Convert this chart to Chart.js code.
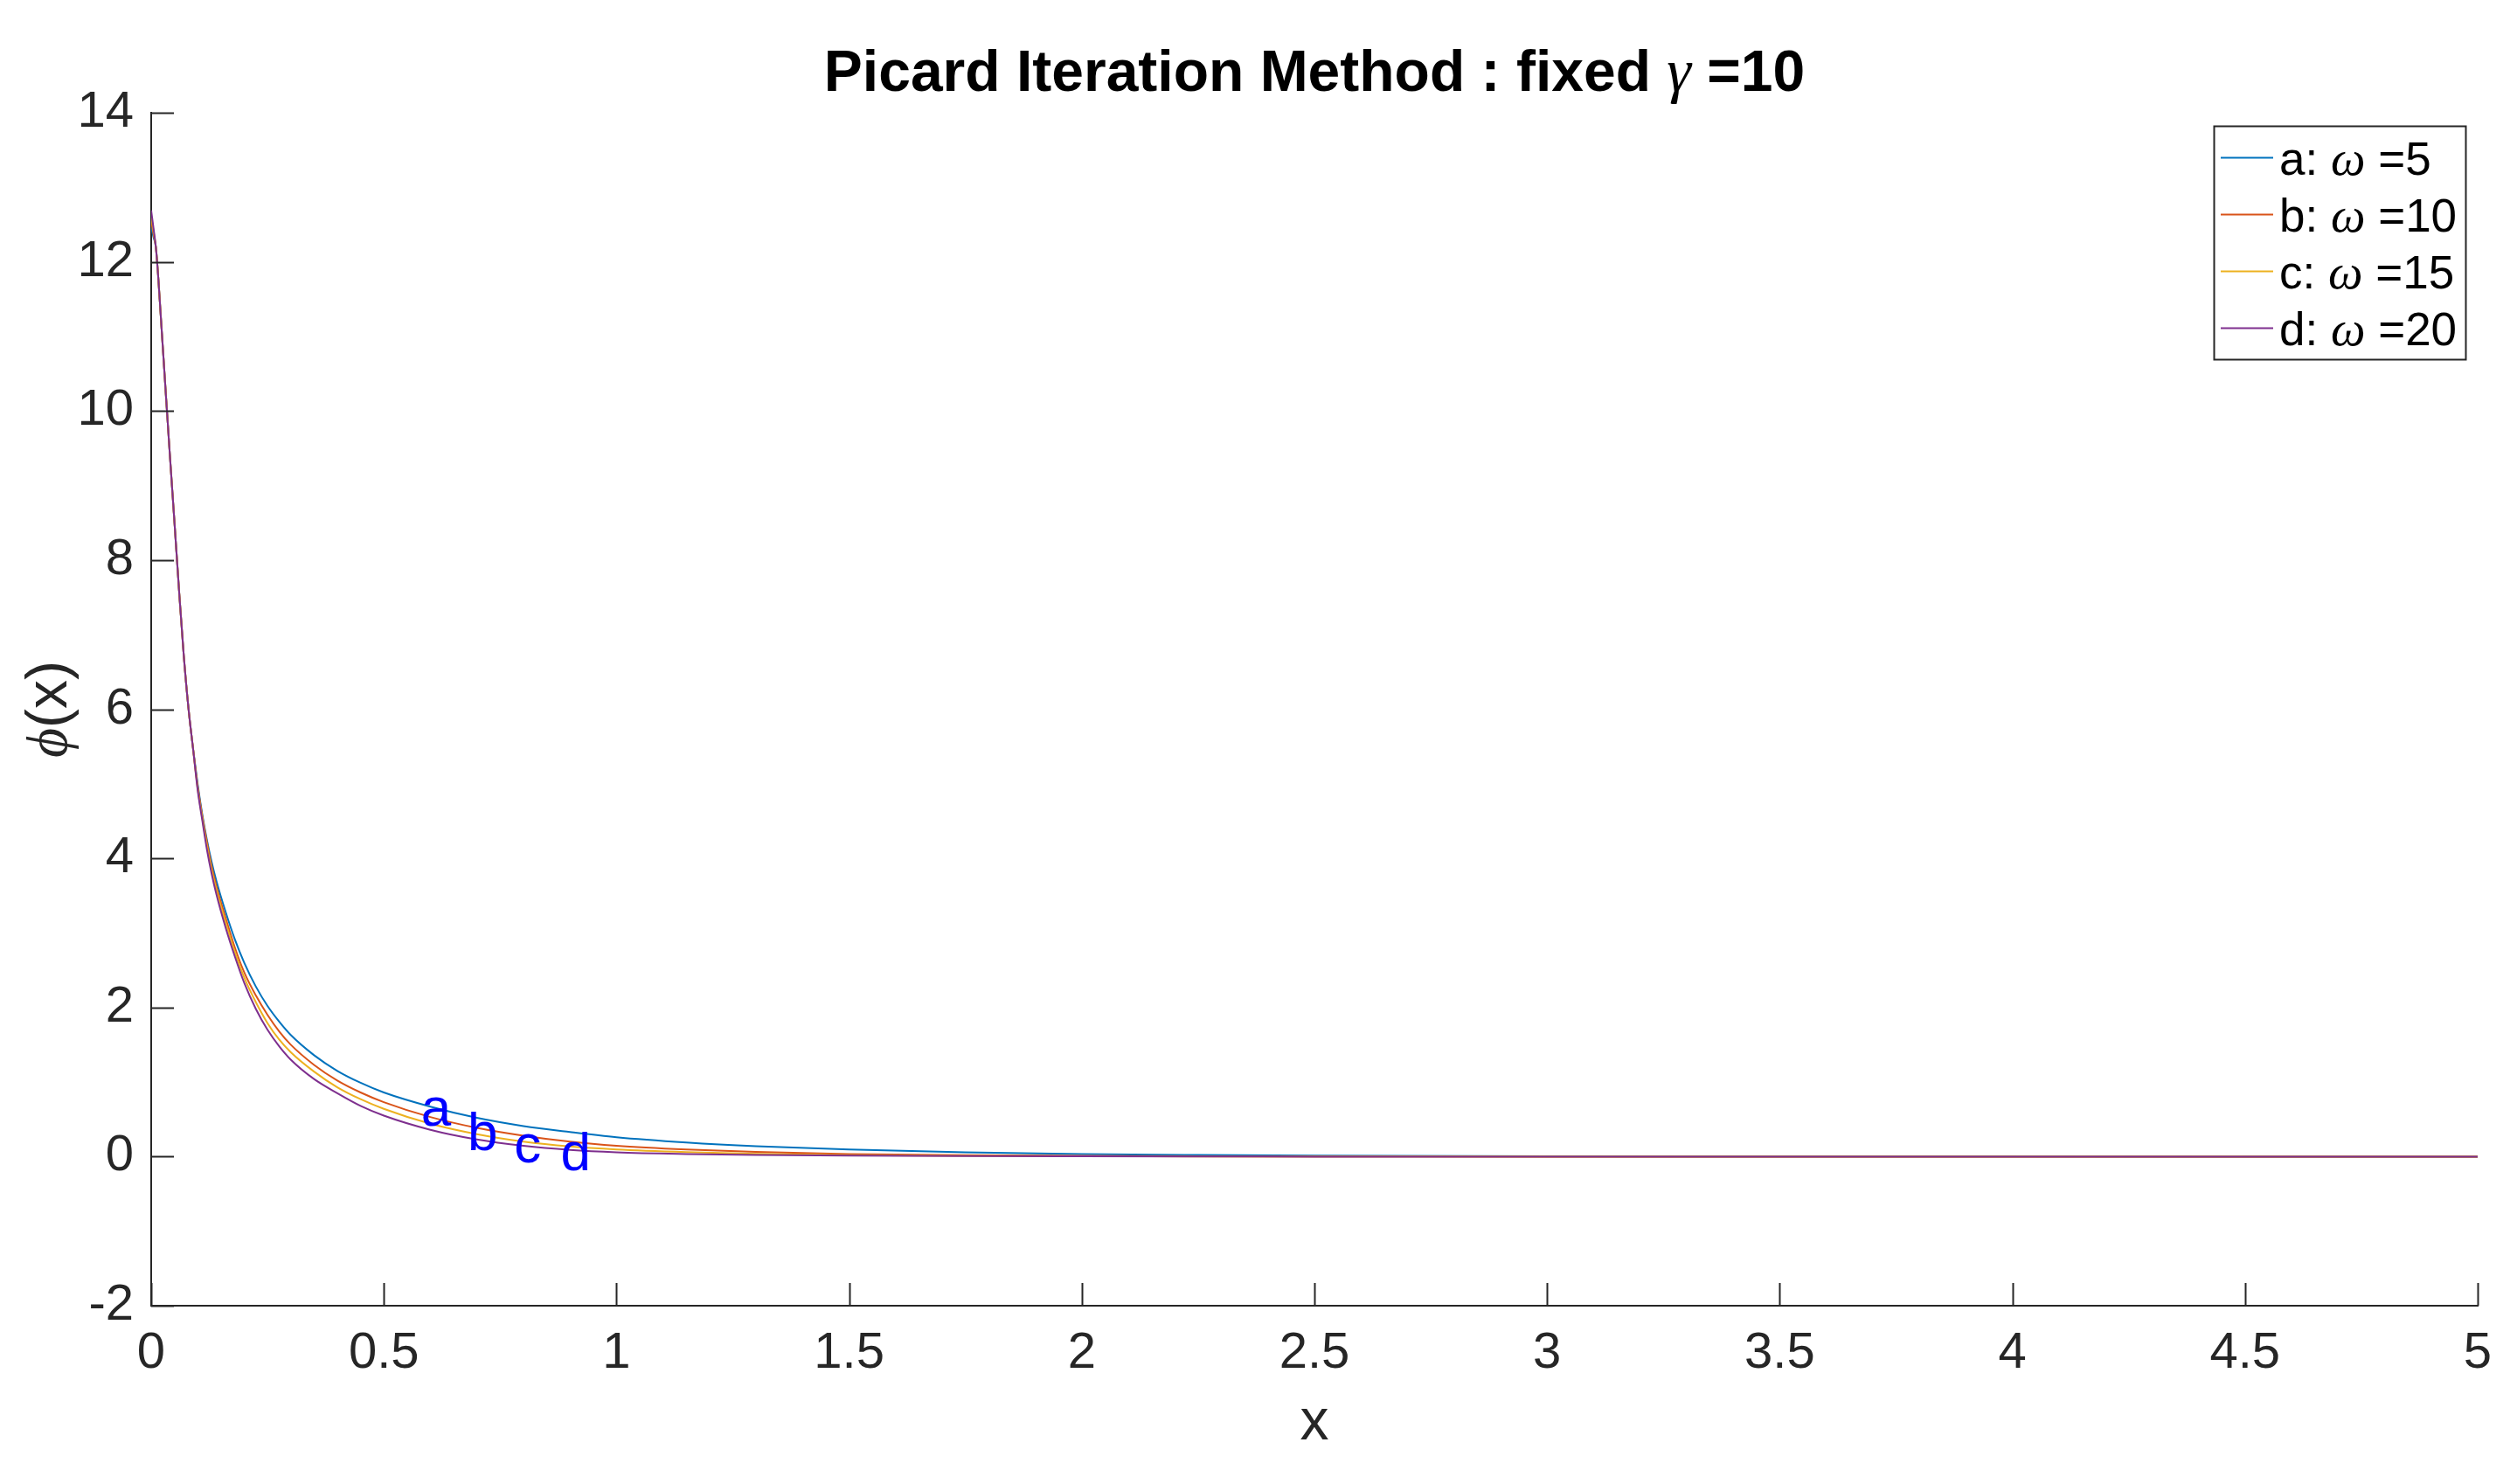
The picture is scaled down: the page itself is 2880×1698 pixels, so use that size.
<!DOCTYPE html>
<html>
<head>
<meta charset="utf-8">
<title>Picard Iteration Method</title>
<script src="https://cdn.jsdelivr.net/npm/chart.js@4.4.1/dist/chart.umd.min.js"></script>
<style>
    html, body { margin: 0; padding: 0; background: #fff; }
    canvas { display: block; }
</style>
</head>
<body>
<canvas id="picard-chart" width="2880" height="1698"></canvas>
<script>
// ===================================================================
// DATA
// ===================================================================
const xValues = [0, 0.005, 0.01, 0.015, 0.02, 0.03, 0.04, 0.05, 0.06, 0.07, 0.08, 0.09,
                 0.1, 0.11, 0.12, 0.13, 0.14, 0.16, 0.18, 0.2, 0.225, 0.25, 0.275, 0.3,
                 0.35, 0.4, 0.45, 0.5, 0.6, 0.7, 0.8, 0.9, 1.0, 1.15, 1.3, 1.5, 1.75,
                 2.0, 2.25, 2.5, 3.0, 3.5, 4.0, 4.5, 5.0];

const phiA = [12.47, 12.33, 12.2, 11.81, 11.33, 10.37, 9.42, 8.51, 7.58, 6.72, 6.02, 5.47,
              4.99, 4.58, 4.24, 3.95, 3.70, 3.28, 2.91, 2.60, 2.28, 2.02, 1.81, 1.63,
              1.36, 1.15, 0.99, 0.86, 0.67, 0.52, 0.41, 0.33, 0.26, 0.19, 0.14, 0.095, 0.058,
              0.035, 0.022, 0.013, 0.005, 0.002, 0.001, 0, 0];
const phiB = [12.55, 12.37, 12.2, 11.81, 11.33, 10.37, 9.42, 8.51, 7.58, 6.72, 6.02, 5.47,
              4.96, 4.56, 4.21, 3.89, 3.63, 3.20, 2.80, 2.47, 2.16, 1.90, 1.68, 1.50,
              1.23, 1.02, 0.86, 0.73, 0.53, 0.385, 0.28, 0.20, 0.145, 0.095, 0.062, 0.035, 0.018,
              0.009, 0.004, 0.002, 0, 0, 0, 0, 0];
const phiC = [12.61, 12.41, 12.2, 11.81, 11.33, 10.37, 9.42, 8.51, 7.58, 6.72, 6.02, 5.47,
              4.93, 4.53, 4.16, 3.84, 3.58, 3.14, 2.74, 2.40, 2.07, 1.79, 1.57, 1.40,
              1.14, 0.93, 0.77, 0.64, 0.44, 0.30, 0.20, 0.135, 0.095, 0.06, 0.038, 0.02, 0.01,
              0.005, 0.002, 0.001, 0, 0, 0, 0, 0];
const phiD = [12.69, 12.45, 12.2, 11.81, 11.33, 10.37, 9.42, 8.51, 7.58, 6.72, 6.02, 5.47,
              4.91, 4.50, 4.11, 3.79, 3.52, 3.07, 2.68, 2.33, 1.98, 1.70, 1.48, 1.30,
              1.04, 0.85, 0.68, 0.55, 0.36, 0.23, 0.145, 0.09, 0.058, 0.035, 0.022, 0.012, 0.006,
              0.003, 0.001, 0, 0, 0, 0, 0, 0];

const seriesKeys = ['a', 'b', 'c', 'd'];
const omegaValues = [5, 10, 15, 20];
const seriesColors = ['#0072BD', '#D95319', '#EDB120', '#7E2F8E'];

// curve labels placed inside the plot
const labelX = [0.58, 0.68, 0.78, 0.88];
const labelY = [0.62, 0.29, 0.12, 0.02];

const gammaValue = 10;

document.addEventListener('DOMContentLoaded', () => {
    const SANS = '"Liberation Sans", Arial, Helvetica, sans-serif';
    const SERIF = '"Liberation Serif", "DejaVu Serif", serif';
    const AXIS_COLOR = '#262626';
    const TICK_LEN = 26;

    // draws a row of text pieces with different fonts, starting at x
    function drawPieces(ctx, pieces, x, y) {
        pieces.forEach(p => {
            ctx.font = p.font;
            ctx.fillText(p.text, x, y);
            x += ctx.measureText(p.text).width;
        });
    }
    function piecesWidth(ctx, pieces) {
        return pieces.reduce((w, p) => { ctx.font = p.font; return w + ctx.measureText(p.text).width; }, 0);
    }

    // ===================================================================
    // PLUGIN: matlab-like decorations (title, inward ticks, legend, labels)
    // ===================================================================
    const matlabDecor = {
        id: 'matlabDecor',
        afterDatasetsDraw(chart) {
            const { ctx, chartArea, scales } = chart;
            const xs = scales.x, ys = scales.y;
            ctx.save();

            // inward ticks
            ctx.strokeStyle = AXIS_COLOR;
            ctx.lineWidth = 2;
            ctx.beginPath();
            xs.ticks.forEach(t => {
                const px = Math.round(xs.getPixelForValue(t.value)) + 0.5;
                ctx.moveTo(px, chartArea.bottom);
                ctx.lineTo(px, chartArea.bottom - TICK_LEN);
            });
            ys.ticks.forEach(t => {
                const py = Math.round(ys.getPixelForValue(t.value)) + 0.5;
                ctx.moveTo(chartArea.left, py);
                ctx.lineTo(chartArea.left + TICK_LEN, py);
            });
            ctx.stroke();

            // curve labels a..d
            ctx.fillStyle = '#0000FF';
            ctx.font = '62px ' + SANS;
            ctx.textAlign = 'left';
            ctx.textBaseline = 'middle';
            seriesKeys.forEach((k, i) => {
                ctx.fillText(k, xs.getPixelForValue(labelX[i]), ys.getPixelForValue(labelY[i]));
            });

            // title
            ctx.fillStyle = '#000';
            ctx.textBaseline = 'alphabetic';
            const titlePieces = [
                { text: 'Picard Iteration Method : fixed ', font: 'bold 66px ' + SANS },
                { text: 'γ', font: 'italic 70px ' + SERIF },
                { text: ' =' + gammaValue, font: 'bold 66px ' + SANS },
            ];
            const cx = (chartArea.left + chartArea.right) / 2;
            drawPieces(ctx, titlePieces, cx - piecesWidth(ctx, titlePieces) / 2, 104);

            // axis titles
            ctx.fillStyle = AXIS_COLOR;
            ctx.font = '66px ' + SANS;
            ctx.textAlign = 'center';
            ctx.fillText('x', cx, 1647);

            const yPieces = [
                { text: 'ϕ', font: 'italic 66px ' + SERIF },
                { text: '(x)', font: '66px ' + SANS },
            ];
            ctx.save();
            ctx.translate(76, (chartArea.top + chartArea.bottom) / 2);
            ctx.rotate(-Math.PI / 2);
            ctx.textAlign = 'left';
            drawPieces(ctx, yPieces, -piecesWidth(ctx, yPieces) / 2, 0);
            ctx.restore();

            // legend box
            const box = { left: 2533, top: 144, right: 2821, bottom: 411 };
            ctx.fillStyle = '#fff';
            ctx.fillRect(box.left, box.top, box.right - box.left, box.bottom - box.top);
            ctx.strokeStyle = AXIS_COLOR;
            ctx.lineWidth = 2;
            ctx.strokeRect(box.left + 0.5, box.top + 0.5, box.right - box.left, box.bottom - box.top);
            ctx.textAlign = 'left';
            seriesKeys.forEach((k, i) => {
                const rowY = 180 + i * 65;
                ctx.strokeStyle = seriesColors[i];
                ctx.lineWidth = 2;
                ctx.beginPath();
                ctx.moveTo(2541, rowY + 0.5);
                ctx.lineTo(2601, rowY + 0.5);
                ctx.stroke();
                ctx.fillStyle = '#000';
                drawPieces(ctx, [
                    { text: k + ': ', font: '53px ' + SANS },
                    { text: 'ω', font: 'italic 56px ' + SERIF },
                    { text: ' =' + omegaValues[i], font: '53px ' + SANS },
                ], 2608, rowY + 20);
            });

            ctx.restore();
        }
    };

    // ===================================================================
    // CHART
    // ===================================================================
    const allSeries = [phiA, phiB, phiC, phiD];
    const datasets = allSeries.map((ys, i) => ({
        label: seriesKeys[i] + ': ω =' + omegaValues[i],
        data: xValues.map((x, j) => ({ x: x, y: ys[j] })),
        borderColor: seriesColors[i],
        borderWidth: 2,
        pointRadius: 0,
        cubicInterpolationMode: 'monotone',
        fill: false,
        order: allSeries.length - i, // d on top, like the reference
    }));

    const tickFont = { family: SANS, size: 58 };

    new Chart(document.getElementById('picard-chart'), {
        type: 'line',
        data: { datasets },
        options: {
            responsive: false,
            animation: false,
            devicePixelRatio: 1,
            layout: { padding: { left: 0, top: 129, right: 45, bottom: 0 } },
            plugins: {
                legend: { display: false },
                title: { display: false },
                tooltip: { enabled: false },
            },
            scales: {
                x: {
                    type: 'linear',
                    min: 0, max: 5,
                    ticks: {
                        stepSize: 0.5, font: tickFont, color: AXIS_COLOR, padding: 20,
                        maxRotation: 0, autoSkip: false, callback: v => String(v),
                    },
                    grid: { display: false, drawTicks: false },
                    border: { display: true, color: AXIS_COLOR, width: 2 },
                    afterFit: s => { s.height = 204; },
                },
                y: {
                    type: 'linear',
                    min: -2, max: 14,
                    ticks: { stepSize: 2, font: tickFont, color: AXIS_COLOR, padding: 20, autoSkip: false, callback: v => String(v) },
                    grid: { display: false, drawTicks: false },
                    border: { display: true, color: AXIS_COLOR, width: 2 },
                    afterFit: s => { s.width = 173; },
                },
            },
        },
        plugins: [matlabDecor],
    });
});
</script>
</body>
</html>
